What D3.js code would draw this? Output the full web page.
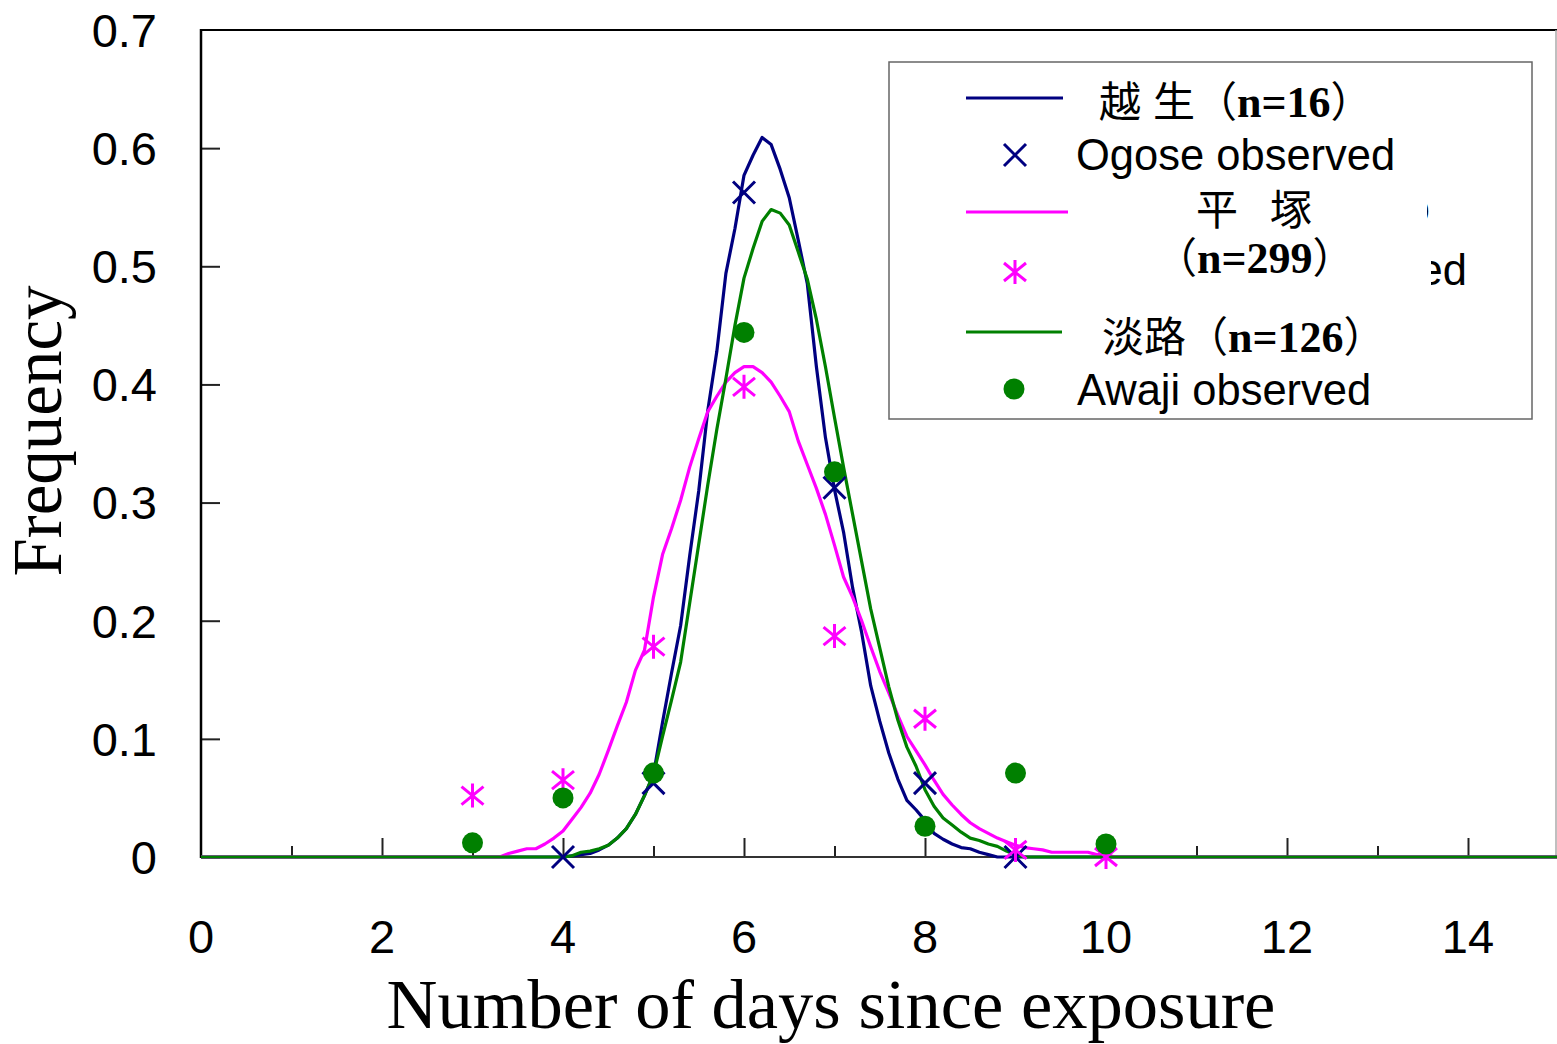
<!DOCTYPE html>
<html>
<head>
<meta charset="utf-8">
<script src="https://cdn.jsdelivr.net/npm/d3@7"></script>
<style>
  html, body { margin: 0; padding: 0; background: #fff; }
  svg { display: block; }
</style>
</head>
<body>
<svg id="chart" width="1557" height="1044"></svg>
<script>
// ---------------- data ----------------
const curveDays = [0, 3.3, 3.4, 3.5, 3.6, 3.7, 3.8, 3.9, 4.0,
  4.1, 4.2, 4.3, 4.4, 4.5, 4.6, 4.7, 4.8, 4.9, 5.0,
  5.1, 5.2, 5.3, 5.4, 5.5, 5.6, 5.7, 5.8, 5.9, 6.0,
  6.1, 6.2, 6.3, 6.4, 6.5, 6.6, 6.7, 6.8, 6.9, 7.0,
  7.1, 7.2, 7.3, 7.4, 7.5, 7.6, 7.7, 7.8, 7.9, 8.0,
  8.1, 8.2, 8.3, 8.4, 8.5, 8.6, 8.7, 8.8, 8.9, 9.0,
  9.1, 9.2, 9.3, 9.4, 9.5, 9.6, 9.7, 9.8, 9.9, 10.0,
  10.1, 10.2, 15];

const ogoseFit = [0, 0, 0, 0, 0, 0, 0, 0, 0,
  0.001, 0.002, 0.003, 0.006, 0.010, 0.016, 0.024, 0.036, 0.052, 0.070,
  0.114, 0.156, 0.196, 0.255, 0.310, 0.378, 0.428, 0.494, 0.532, 0.577,
  0.594, 0.609, 0.603, 0.582, 0.558, 0.522, 0.485, 0.415, 0.355, 0.311,
  0.275, 0.228, 0.190, 0.145, 0.115, 0.088, 0.066, 0.048, 0.040, 0.031,
  0.020, 0.015, 0.011, 0.008, 0.007, 0.004, 0.002, 0, 0, 0,
  0, 0, 0, 0, 0, 0, 0, 0, 0, 0,
  0, 0, 0];

const hiratsukaFit = [0, 0, 0.003, 0.005, 0.007, 0.007, 0.011, 0.016, 0.022,
  0.032, 0.042, 0.054, 0.070, 0.090, 0.111, 0.131, 0.158, 0.175, 0.220,
  0.256, 0.278, 0.302, 0.330, 0.354, 0.377, 0.390, 0.402, 0.410, 0.415,
  0.415, 0.410, 0.402, 0.390, 0.377, 0.352, 0.332, 0.312, 0.290, 0.264,
  0.237, 0.220, 0.200, 0.178, 0.157, 0.139, 0.120, 0.102, 0.090, 0.078,
  0.065, 0.053, 0.044, 0.036, 0.029, 0.024, 0.020, 0.016, 0.013, 0.010,
  0.008, 0.007, 0.006, 0.004, 0.004, 0.004, 0.004, 0.004, 0.002, 0.002,
  0, 0, 0];

const awajiFit = [0, 0, 0, 0, 0, 0, 0, 0, 0,
  0.001, 0.004, 0.005, 0.007, 0.010, 0.016, 0.024, 0.036, 0.052, 0.070,
  0.102, 0.133, 0.165, 0.215, 0.265, 0.315, 0.362, 0.405, 0.450, 0.490,
  0.515, 0.538, 0.548, 0.545, 0.535, 0.512, 0.489, 0.455, 0.415, 0.372,
  0.330, 0.290, 0.250, 0.210, 0.177, 0.144, 0.116, 0.093, 0.077, 0.057,
  0.043, 0.033, 0.027, 0.021, 0.016, 0.014, 0.011, 0.009, 0.005, 0.002,
  0, 0, 0, 0, 0, 0, 0, 0, 0, 0,
  0, 0, 0];

const ogoseObsDays = [4, 5, 6, 7, 8, 9];
const ogoseObs = [0, 0.0625, 0.5625, 0.3125, 0.0625, 0];
const hiratsukaObsDays = [3, 4, 5, 6, 7, 8, 9, 10];
const hiratsukaObs = [0.052, 0.065, 0.178, 0.398, 0.187, 0.117, 0.006, 0];
const awajiObsDays = [3, 4, 5, 6, 7, 8, 9, 10];
const awajiObs = [0.012, 0.050, 0.071, 0.444, 0.326, 0.026, 0.071, 0.011];

const xTicks = [0, 2, 4, 6, 8, 10, 12, 14];
const xMinorTicks = [1, 3, 5, 7, 9, 11, 13, 15];
const yTicks = [0, 0.1, 0.2, 0.3, 0.4, 0.5, 0.6, 0.7];

const xTitle = "Number of days since exposure";
const yTitle = "Frequency";

// ---------------- drawing ----------------
const NAVY = "#000080", MAGENTA = "#FF00FF", GREEN = "#008000";
const svg = d3.select("#chart");
svg.append("rect").attr("width", 1557).attr("height", 1044).attr("fill", "#fff");

const x = d3.scaleLinear().domain([0, 15]).range([201, 1558.5]);
const y = d3.scaleLinear().domain([0, 0.7]).range([857, 30]);

const SANS = "'Liberation Sans', Arial, sans-serif";
const SERIF = "'Liberation Serif', 'Times New Roman', serif";
const CJK = "'Noto Sans CJK JP', 'Noto Sans CJK SC', sans-serif";

// frame: top border, right border
svg.append("line").attr("x1", 201).attr("x2", 1557).attr("y1", y(0.7)).attr("y2", y(0.7))
  .attr("stroke", "#000").attr("stroke-width", 2);
svg.append("line").attr("x1", 1556).attr("x2", 1556).attr("y1", y(0.7)).attr("y2", y(0))
  .attr("stroke", "#aaa").attr("stroke-width", 1.5);

// y axis (ticks inward)
const yAxis = d3.axisRight(y).tickValues(yTicks.slice(0, -1)).tickSize(19).tickFormat("");
const gy = svg.append("g").attr("transform", "translate(201,0)").call(yAxis);
gy.select(".domain").remove();
gy.selectAll(".tick line").attr("stroke", "#222").attr("stroke-width", 2);
svg.append("line").attr("x1", 201).attr("x2", 201).attr("y1", y(0.7) - 1).attr("y2", y(0) + 1)
  .attr("stroke", "#000").attr("stroke-width", 2.5);

// y tick labels
svg.append("g").selectAll("text").data(yTicks).join("text")
  .attr("x", 157).attr("y", d => y(d)).attr("dy", "0.36em")
  .attr("text-anchor", "end").attr("font-family", SANS).attr("font-size", 47)
  .attr("fill", "#000").text(d => d === 0 ? "0" : d3.format(".1f")(d));

// x axis (ticks inward / upward)
const xMajor = d3.axisTop(x).tickValues(xTicks.slice(1)).tickSize(19).tickFormat("");
const gx = svg.append("g").attr("transform", `translate(0,${y(0)})`).call(xMajor);
gx.select(".domain").remove();
gx.selectAll(".tick line").attr("stroke", "#222").attr("stroke-width", 2);
const xMinor = d3.axisTop(x).tickValues(xMinorTicks).tickSize(11).tickFormat("");
const gx2 = svg.append("g").attr("transform", `translate(0,${y(0)})`).call(xMinor);
gx2.select(".domain").remove();
gx2.selectAll(".tick line").attr("stroke", "#222").attr("stroke-width", 2);
svg.append("line").attr("x1", 201).attr("x2", 1557).attr("y1", y(0)).attr("y2", y(0))
  .attr("stroke", "#333").attr("stroke-width", 2);

// x tick labels
svg.append("g").selectAll("text").data(xTicks).join("text")
  .attr("x", d => x(d)).attr("y", 953)
  .attr("text-anchor", "middle").attr("font-family", SANS).attr("font-size", 47)
  .attr("fill", "#000").text(d => d);

// axis titles
svg.append("text").attr("x", 831).attr("y", 1028).attr("text-anchor", "middle")
  .attr("font-family", SERIF).attr("font-size", 70.5).attr("fill", "#000").text(xTitle);
svg.append("text").attr("transform", "translate(61,431) rotate(-90)").attr("text-anchor", "middle")
  .attr("font-family", SERIF).attr("font-size", 69).attr("fill", "#000").text(yTitle);

// fitted curves
const line = d3.line().x(d => x(d[0])).y(d => y(d[1]));
function curve(vals, color) {
  svg.append("path").datum(curveDays.map((d, i) => [d, vals[i]]))
    .attr("d", line).attr("fill", "none").attr("stroke", color)
    .attr("stroke-width", 3.2).attr("stroke-linejoin", "round");
}
curve(ogoseFit, NAVY);
curve(hiratsukaFit, MAGENTA);
curve(awajiFit, GREEN);

// marker shapes
const xMark = "M-11,-11L11,11M-11,11L11,-11";
const starMark = "M0,-12L0,12M-11,-9L11,9M-11,9L11,-9";

svg.append("g").selectAll("path").data(ogoseObsDays.map((d, i) => [d, ogoseObs[i]])).join("path")
  .attr("transform", d => `translate(${x(d[0])},${y(d[1])})`).attr("d", xMark)
  .attr("stroke", NAVY).attr("stroke-width", 3).attr("fill", "none");
svg.append("g").selectAll("path").data(hiratsukaObsDays.map((d, i) => [d, hiratsukaObs[i]])).join("path")
  .attr("transform", d => `translate(${x(d[0])},${y(d[1])})`).attr("d", starMark)
  .attr("stroke", MAGENTA).attr("stroke-width", 3).attr("fill", "none");
svg.append("g").selectAll("circle").data(awajiObsDays.map((d, i) => [d, awajiObs[i]])).join("circle")
  .attr("cx", d => x(d[0])).attr("cy", d => y(d[1])).attr("r", 10.5).attr("fill", GREEN);

// ---------------- legend ----------------
const lg = svg.append("g");
lg.append("rect").attr("x", 889).attr("y", 62).attr("width", 643).attr("height", 357)
  .attr("fill", "#fff").attr("stroke", "#666").attr("stroke-width", 1.5);

const defs = svg.append("defs");
defs.append("clipPath").attr("id", "clipEd").append("rect")
  .attr("x", 1431).attr("y", 240).attr("width", 90).attr("height", 60);
defs.append("clipPath").attr("id", "clipParen").append("rect")
  .attr("x", 1427).attr("y", 195).attr("width", 20).attr("height", 35);

// fragments of the hidden "Hiratsuka observed" label, visible through the legend
lg.append("text").attr("x", 1467).attr("y", 285).attr("text-anchor", "end")
  .attr("font-family", SANS).attr("font-size", 43.5).attr("fill", "#000")
  .attr("clip-path", "url(#clipEd)").text("ed");
lg.append("text").attr("x", 1420).attr("y", 218)
  .attr("font-family", SERIF).attr("font-size", 28).attr("fill", "#000")
  .attr("clip-path", "url(#clipParen)").text(")");

function seg(y0, color, x2) {
  lg.append("line").attr("x1", 966).attr("x2", x2).attr("y1", y0).attr("y2", y0)
    .attr("stroke", color).attr("stroke-width", 3.2);
}
function t(xp, yp, str, fam, size) {
  lg.append("text").attr("x", xp).attr("y", yp).attr("font-family", fam)
    .attr("font-size", size).attr("fill", "#000").text(str);
}
// one text element per label; pieces in different fonts as tspans
function label(yp, parts) {
  const el = lg.append("text").attr("y", yp).attr("fill", "#000");
  parts.forEach(p => {
    const s = el.append("tspan").text(p.s);
    if (p.x !== undefined) s.attr("x", p.x);
    if (p.serif) s.attr("font-family", SERIF).attr("font-size", 44).attr("font-weight", "bold");
    else s.attr("font-family", CJK).attr("font-size", 42);
  });
}

// row 1
seg(98, NAVY, 1063);
label(117, [{s: "越", x: 1099}, {s: "生", x: 1153}, {s: "（"}, {s: "n=16", serif: true}, {s: "）"}]);
// row 2
lg.append("path").attr("transform", "translate(1015,155)").attr("d", xMark)
  .attr("stroke", NAVY).attr("stroke-width", 3).attr("fill", "none");
t(1076, 170, "Ogose observed", SANS, 43.5);
// row 3
seg(212, MAGENTA, 1068);
label(225, [{s: "平", x: 1196}, {s: "塚", x: 1270}]);
label(273, [{s: "（", x: 1155}, {s: "n=299", serif: true}, {s: "）"}]);
lg.append("path").attr("transform", "translate(1015,272)").attr("d", starMark)
  .attr("stroke", MAGENTA).attr("stroke-width", 3).attr("fill", "none");
// row 4
seg(332, GREEN, 1062);
label(352, [{s: "淡", x: 1102}, {s: "路"}, {s: "（"}, {s: "n=126", serif: true}, {s: "）"}]);
// row 5
lg.append("circle").attr("cx", 1014).attr("cy", 389).attr("r", 10.5).attr("fill", GREEN);
t(1077, 405, "Awaji observed", SANS, 43.5);
</script>
</body>
</html>
